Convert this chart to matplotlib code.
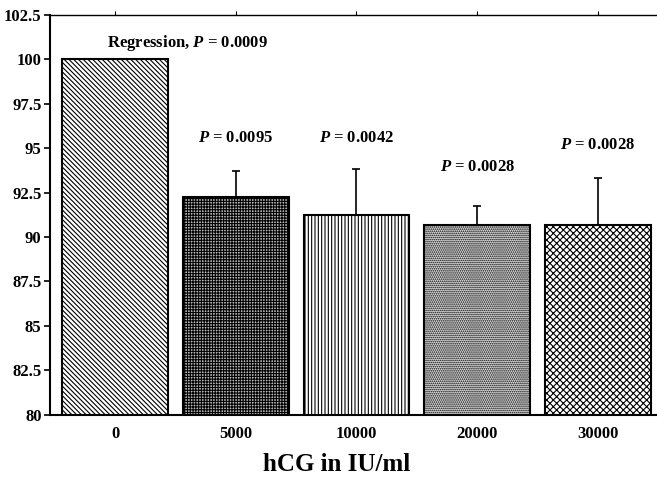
import matplotlib
matplotlib.use("Agg")
import matplotlib.pyplot as plt

# values
doses = ["0", "5000", "10000", "20000", "30000"]
means = [100.0, 92.27, 91.25, 90.7, 90.7]
errs = [0.0, 1.46, 2.6, 1.02, 2.6]
p_labels = ["Regression, $\\bfit{P}$ = 0.0009", "$\\bfit{P}$ = 0.0095", "$\\bfit{P}$ = 0.0042",
            "$\\bfit{P}$ = 0.0028", "$\\bfit{P}$ = 0.0028"]
p_ypos = [100.9, 95.6, 95.6, 93.95, 95.2]
p_xoff = [0.6, 0.0, 0.0, 0.0, 0.0]
hatches = ["\\\\\\\\\\\\\\", "++++++", "|||||", "........", "xxxxx"]
fills = ["white", "#bbbbbb", "white", "#dddddd", "white"]

plt.rcParams["font.family"] = "Liberation Serif"
plt.rcParams["mathtext.fontset"] = "custom"
plt.rcParams["mathtext.bfit"] = "Liberation Serif:bold:italic"
plt.rcParams["hatch.linewidth"] = 0.8

fig = plt.figure(figsize=(6.57, 4.79), dpi=100)
ax = fig.add_axes([0.076, 0.134, 0.922, 0.835])

x = list(range(len(doses)))
for i in x:
    ax.bar(i, means[i], width=0.875, bottom=0, color=fills[i], edgecolor="black",
           hatch=hatches[i], linewidth=1.5, zorder=2)
ax.errorbar(x, means, yerr=[[0] * len(errs), errs], fmt="none", ecolor="black",
            elinewidth=1.2, capsize=3, capthick=1.2, zorder=3)

for i in x:
    ax.text(i + p_xoff[i], p_ypos[i], p_labels[i], ha="center", va="center",
            fontsize=12, fontweight="bold")

ax.set_ylim(80, 102.5)
ax.set_xlim(-0.54, 4.48)
yt = [80 + 2.5 * k for k in range(10)]
ax.set_yticks(yt)
ax.set_yticklabels(["%g" % v for v in yt], fontsize=12, fontweight="bold")
ax.set_xticks(x)
ax.set_xticklabels(doses, fontsize=12, fontweight="bold")
ax.tick_params(axis="x", bottom=False, top=True, length=3, direction="out", pad=5)
ax.tick_params(axis="y", length=4, width=1.2, direction="out", pad=2)
ax.spines["right"].set_visible(False)
for s in ["left", "bottom"]:
    ax.spines[s].set_linewidth(1.5)
ax.spines["top"].set_linewidth(1.0)

fig.text(0.512, 0.03, "hCG in IU/ml", ha="center", va="center", fontsize=18, fontweight="bold")

fig.savefig("out.png", dpi=100)
